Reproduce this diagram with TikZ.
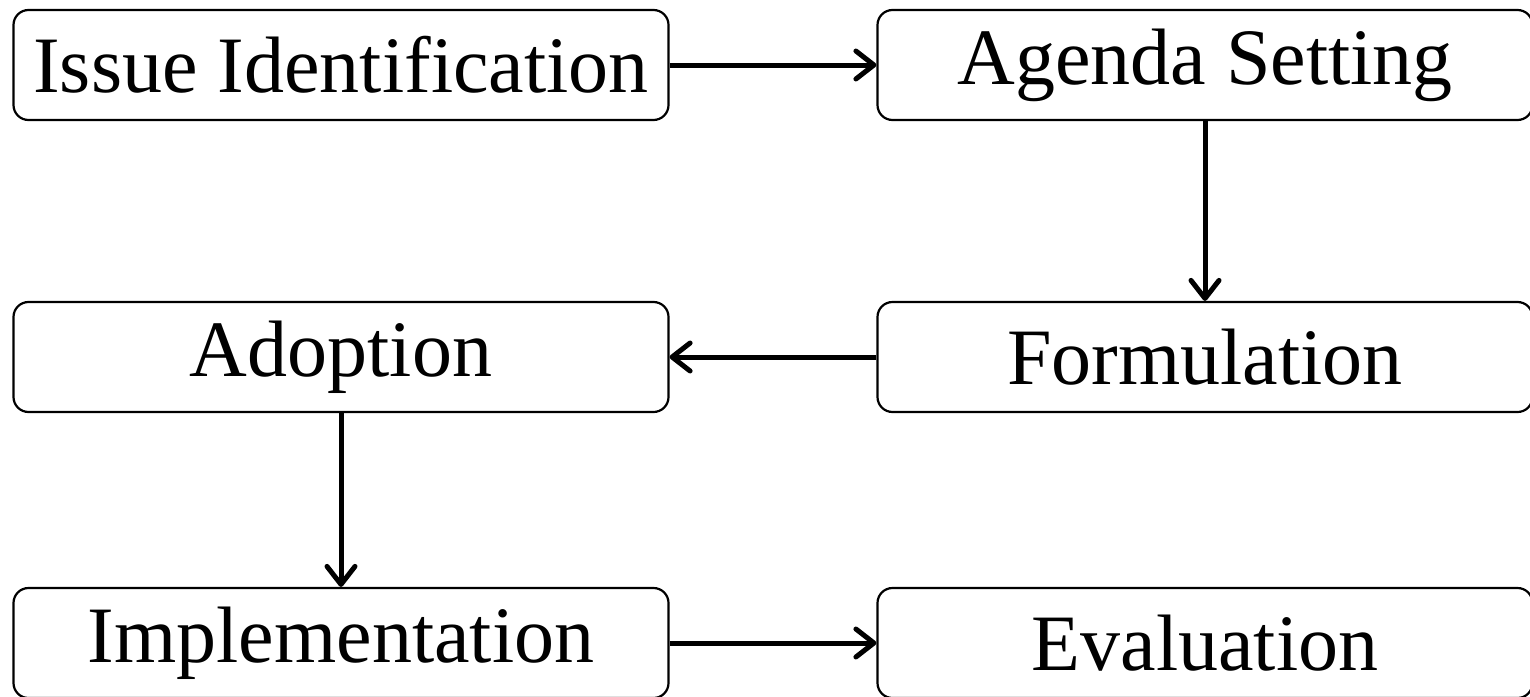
\documentclass[tikz,border=0pt]{standalone}
\usepackage{fontspec}
\setmainfont{Liberation Serif}
\usetikzlibrary{arrows.meta, positioning}

\begin{document}
\begin{tikzpicture}[>={Straight Barb[length=9pt, width=14pt, round]}, node distance=432pt, on grid,
    stage/.style={draw, line width=1.1pt, rounded corners=7.5pt, minimum width=327.5pt,
      minimum height=55pt, inner sep=0pt, font=\fontsize{40}{48}\selectfont},
    flow/.style={->, line width=2.5pt}]
                \useasboundingbox (0,0) rectangle (765pt,-348pt);
                \node[stage] (issue) at (170.5pt,-32.5pt) {Issue Identification};
                \node[stage, right=432pt of issue] (agenda) {Agenda Setting};
                \node[stage, below=146pt of agenda] (form) {Formulation};
                \node[stage, left=432pt of form] (adopt) {Adoption};
                \node[stage, below=143pt of adopt] (impl) {Implementation};
                \node[stage, right=432pt of impl] (eval) {Evaluation};
                
                \path[flow]
                (issue) edge (agenda)
                (agenda) edge (form)
                (form) edge (adopt)
                (adopt) edge (impl)
                (impl) edge (eval);
              \end{tikzpicture}
\end{document}
